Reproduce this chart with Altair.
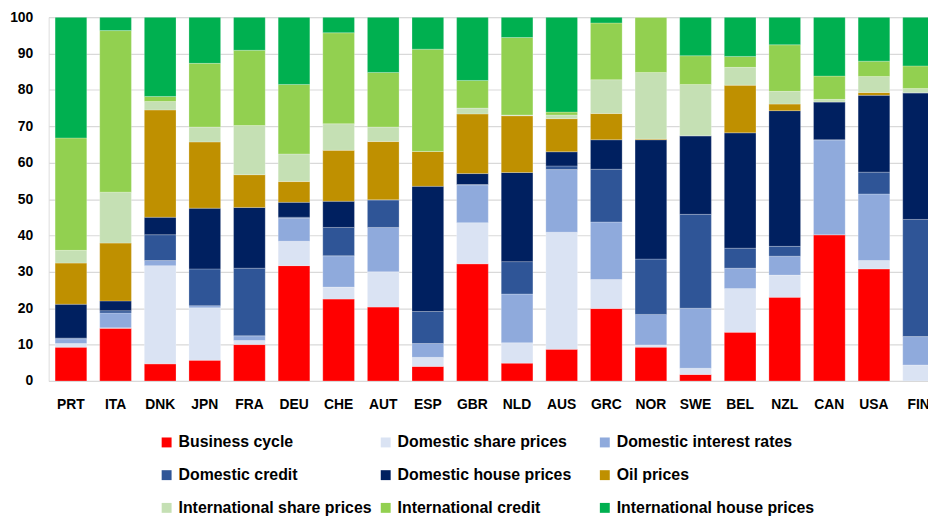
import altair as alt
import pandas as pd

countries = ["PRT", "ITA", "DNK", "JPN", "FRA", "DEU", "CHE", "AUT", "ESP", "GBR",
             "NLD", "AUS", "GRC", "NOR", "SWE", "BEL", "NZL", "CAN", "USA", "FIN"]

series_names = ["Business cycle", "Domestic share prices", "Domestic interest rates",
                "Domestic credit", "Domestic house prices", "Oil prices",
                "International share prices", "International credit",
                "International house prices"]

business_cycle = [9.3, 14.5, 4.7, 5.7, 10.0, 31.7, 22.5, 20.3, 4.0, 32.2,
                  4.9, 8.7, 19.9, 9.3, 1.8, 13.4, 23.0, 40.2, 30.8, 0.0]
domestic_share_prices = [1.0, 0.1, 27.0, 14.4, 1.1, 6.7, 3.3, 9.7, 2.5, 11.3,
                         5.6, 32.2, 8.0, 0.6, 1.7, 12.0, 6.1, 0.0, 2.3, 4.4]
domestic_interest_rates = [1.3, 4.1, 1.4, 0.6, 1.3, 6.3, 8.6, 12.2, 3.8, 10.4,
                           13.4, 17.2, 15.8, 8.4, 16.5, 5.6, 5.2, 26.1, 18.3, 7.8]
domestic_credit = [0.2, 0.6, 7.1, 10.1, 18.6, 0.3, 7.8, 7.6, 8.8, 0.1,
                   8.9, 1.0, 14.5, 15.2, 25.8, 5.5, 2.7, 0.0, 6.0, 32.2]
domestic_house_prices = [9.3, 2.7, 4.8, 16.7, 16.7, 4.1, 7.2, 0.0, 34.4, 3.0,
                         24.5, 3.9, 8.1, 32.8, 21.6, 31.7, 37.3, 10.4, 21.1, 34.8]
oil_prices = [11.3, 15.9, 29.5, 18.2, 9.0, 5.7, 14.0, 16.0, 9.6, 16.4,
              15.6, 9.1, 7.2, 0.2, 0.0, 13.1, 1.8, 0.0, 0.8, 0.0]
international_share_prices = [3.5, 14.0, 2.3, 4.1, 13.5, 7.6, 7.3, 4.0, 0.0, 1.6,
                              0.2, 1.0, 9.3, 18.3, 14.1, 4.9, 3.5, 0.7, 4.4, 1.2]
international_credit = [30.9, 44.4, 1.4, 17.5, 20.7, 19.1, 25.0, 15.0, 28.1, 7.6,
                        21.3, 0.8, 15.6, 15.2, 7.9, 3.0, 12.8, 6.4, 4.2, 6.2]
international_house_prices = [33.2, 3.7, 21.8, 12.7, 9.1, 18.5, 4.3, 15.2, 8.8, 17.4,
                              5.6, 26.1, 1.6, 0.0, 10.6, 10.8, 7.6, 16.2, 12.1, 13.4]

colors = ["#FF0000", "#DAE3F3", "#8FAADC", "#2F5597", "#002060", "#BF9000",
          "#C5E0B4", "#92D050", "#00B050"]

all_series = [business_cycle, domestic_share_prices, domestic_interest_rates,
              domestic_credit, domestic_house_prices, oil_prices,
              international_share_prices, international_credit,
              international_house_prices]

rows = []
for si, (name, vals) in enumerate(zip(series_names, all_series)):
    for c, v in zip(countries, vals):
        rows.append({"country": c, "series": name, "value": v, "order": si})
df = pd.DataFrame(rows)

FONT = "Liberation Sans"

chart = alt.Chart(df).mark_bar(
    clip=True, stroke="white", strokeWidth=0.4, strokeOpacity=0.6
).encode(
    x=alt.X("country:N", sort=countries, title=None,
            scale=alt.Scale(range=[0, 900], paddingInner=0.29, paddingOuter=0.145),
            axis=alt.Axis(labelAngle=0, ticks=False, domain=False, labelPadding=17,
                          labelFont=FONT, labelFontSize=14, labelFontWeight="bold",
                          labelColor="#000000")),
    y=alt.Y("value:Q", stack="zero", title=None,
            scale=alt.Scale(domain=[0, 100], nice=False),
            axis=alt.Axis(values=list(range(0, 101, 10)), ticks=False, domain=False,
                          labelPadding=16, labelFont=FONT, labelFontSize=14,
                          labelFontWeight="bold", labelColor="#000000",
                          gridColor="#d9d9d9", gridWidth=1.2)),
    color=alt.Color("series:N", sort=series_names,
                    scale=alt.Scale(domain=series_names, range=colors),
                    legend=alt.Legend(orient="none", legendX=111, legendY=421,
                                      direction="horizontal", columns=3, title=None,
                                      symbolType="square", symbolSize=100,
                                      symbolStrokeWidth=0, symbolOffset=0,
                                      labelFont=FONT, labelFontSize=16,
                                      labelFontWeight="bold", labelColor="#000000",
                                      labelLimit=400, labelOffset=4,
                                      columnPadding=1, rowPadding=17,
                                      gridAlign="all", padding=0)),
    order=alt.Order("order:Q", sort="ascending"),
    tooltip=["country", "series", "value"],
).properties(
    width=887, height=367,
    autosize=alt.AutoSizeParams(type="none"),
    padding={"left": 41, "top": 7, "right": 0, "bottom": 136},
).configure_view(stroke=None).configure(background="white")

chart.save("out.html", embed_options={"renderer": "svg", "actions": False})
